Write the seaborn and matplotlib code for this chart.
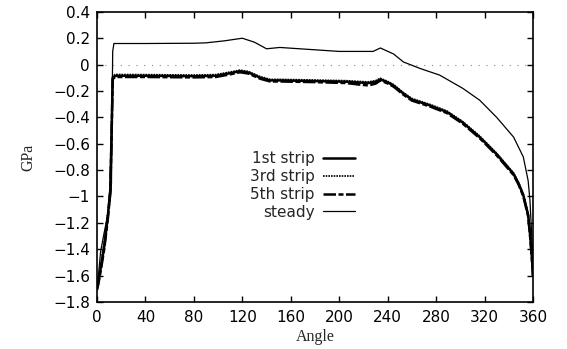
import matplotlib
matplotlib.use("Agg")
import matplotlib.pyplot as plt
import seaborn as sns
import pandas as pd

# ---- data ----
strip_angle = [0, 1, 3, 6, 9, 11, 12, 13, 15, 40, 80, 98, 110, 118, 125, 135, 143,
               151, 180, 206, 215, 224, 230, 234, 240, 245, 253, 260, 275, 289, 302,
               316, 330, 344, 348, 352, 356, 357.5, 359, 360]
strip1 = [-1.70, -1.66, -1.55, -1.38, -1.15, -0.95, -0.55, -0.10, -0.085, -0.085, -0.088,
          -0.085, -0.065, -0.050, -0.060, -0.100, -0.120, -0.120, -0.125, -0.130, -0.135,
          -0.140, -0.130, -0.112, -0.135, -0.160, -0.220, -0.265, -0.310, -0.360, -0.440,
          -0.550, -0.680, -0.830, -0.900, -0.990, -1.140, -1.280, -1.450, -1.600]
strip3 = [-1.69, -1.64, -1.52, -1.34, -1.12, -0.93, -0.52, -0.09, -0.075, -0.076, -0.079,
          -0.076, -0.056, -0.042, -0.052, -0.092, -0.112, -0.112, -0.117, -0.122, -0.127,
          -0.131, -0.122, -0.104, -0.127, -0.152, -0.212, -0.257, -0.302, -0.352, -0.432,
          -0.542, -0.672, -0.822, -0.892, -0.982, -1.130, -1.270, -1.440, -1.590]
strip5 = [-1.71, -1.67, -1.57, -1.40, -1.17, -0.97, -0.58, -0.11, -0.094, -0.094, -0.097,
          -0.094, -0.074, -0.058, -0.068, -0.108, -0.128, -0.128, -0.133, -0.140, -0.150,
          -0.158, -0.145, -0.120, -0.143, -0.168, -0.228, -0.273, -0.318, -0.368, -0.448,
          -0.558, -0.688, -0.838, -0.908, -0.998, -1.150, -1.290, -1.460, -1.610]
steady_angle = [0, 1, 3, 5, 8, 11, 12, 12.5, 13, 14, 40, 80, 90, 105, 120, 130, 140,
                151, 200, 228, 234, 245, 253, 267, 283, 302, 316, 330, 344, 352, 356,
                357.5, 359, 360]
steady = [-1.70, -1.62, -1.42, -1.32, -1.18, -1.03, -0.90, -0.30, 0.10, 0.160, 0.160,
          0.162, 0.165, 0.180, 0.200, 0.170, 0.120, 0.130, 0.100, 0.100, 0.126, 0.080,
          0.020, -0.030, -0.080, -0.180, -0.270, -0.400, -0.550, -0.700, -0.880, -1.030,
          -1.300, -1.500]

series_names = ["1st strip", "3rd strip", "5th strip", "steady"]
x_ticks = [0, 40, 80, 120, 160, 200, 240, 280, 320, 360]
y_ticks = [0.4, 0.2, 0, -0.2, -0.4, -0.6, -0.8, -1, -1.2, -1.4, -1.6, -1.8]
y_tick_labels = ["0.4", "0.2", "0", "\u22120.2", "\u22120.4", "\u22120.6", "\u22120.8",
                 "\u22121", "\u22121.2", "\u22121.4", "\u22121.6", "\u22121.8"]

sns.set_style("ticks")
plt.rcParams["font.family"] = ["DejaVu Sans"]

fig = plt.figure(figsize=(5.67, 3.49), dpi=100)
ax = fig.add_axes([0.171, 0.135, 0.769, 0.831])

ax.axhline(0, color="#888888", lw=0.8, ls=(0, (1, 6)), zorder=0)

df1 = pd.DataFrame({"Angle": strip_angle, "GPa": strip1})
df3 = pd.DataFrame({"Angle": strip_angle, "GPa": strip3})
df5 = pd.DataFrame({"Angle": strip_angle, "GPa": strip5})
dfs = pd.DataFrame({"Angle": steady_angle, "GPa": steady})

sns.lineplot(data=df1, x="Angle", y="GPa", ax=ax, color="black", lw=1.8,
             sort=False, label=series_names[0])
sns.lineplot(data=df3, x="Angle", y="GPa", ax=ax, color="black", lw=1.2,
             linestyle=(0, (1, 0.6)), sort=False, label=series_names[1])
sns.lineplot(data=df5, x="Angle", y="GPa", ax=ax, color="black", lw=1.8,
             linestyle=(0, (5, 1, 2, 1)), sort=False, label=series_names[2])
sns.lineplot(data=dfs, x="Angle", y="GPa", ax=ax, color="black", lw=0.9,
             sort=False, label=series_names[3])

ax.set_xlim(0, 360)
ax.set_ylim(-1.8, 0.4)
ax.set_xticks(x_ticks)
ax.set_xticklabels([str(t) for t in x_ticks])
ax.set_yticks(y_ticks)
ax.set_yticklabels(y_tick_labels)
ax.tick_params(direction="in", top=True, right=True, length=4, width=1,
               labelsize=11, colors="black")
ax.tick_params(axis="x", pad=6)
ax.tick_params(axis="y", pad=5)
for s in ax.spines.values():
    s.set_visible(True)
    s.set_linewidth(1.2)
    s.set_color("black")

ax.set_xlabel("Angle", family=["Liberation Serif"], fontsize=11.5, labelpad=3)
ax.set_ylabel("GPa", family=["Liberation Serif"], fontsize=11.5, labelpad=12)

leg = ax.legend(loc="upper right", bbox_to_anchor=(0.61, 0.545), frameon=False,
                markerfirst=False, fontsize=11, handlelength=2.1,
                labelspacing=0.18, handletextpad=0.55, borderpad=0)

fig.savefig("out.png", dpi=100)
